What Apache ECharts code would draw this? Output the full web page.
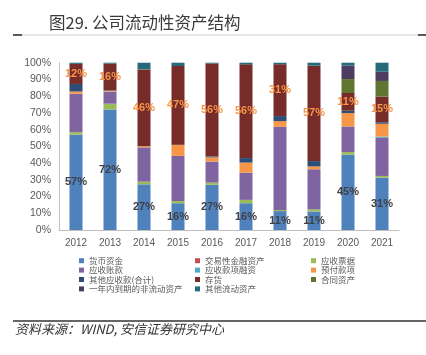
<!DOCTYPE html>
<html><head><meta charset="utf-8">
<script src="https://cdn.jsdelivr.net/npm/echarts@6/dist/echarts.min.js"></script>
<style>html,body{margin:0;padding:0;background:#fff}#c{width:426px;height:355px}</style>
</head><body><div id="c"></div>
<script>
const years = ['2012','2013','2014','2015','2016','2017','2018','2019','2020','2021'];
const cash = [57, 72, 27.3, 16, 27, 16, 11.3, 11, 45, 31.3];
const trading = [0,0,0,0,0,0,0,0,0,0];
const notes = [1.5, 3.5, 1.6, 1.3, 1.3, 2, 0.7, 1.3, 1.6, 1];
const receivables = [23, 7.2, 20.5, 27, 12.6, 16.3, 49.7, 24, 15.3, 22.8];
const financing = [0,0,0,0,0,0,0,0,0,0.7];
const prepay = [1.3, 0.5, 0.6, 6.5, 2.5, 6, 3.4, 1.7, 8, 7.7];
const otherRec = [4.5, 0.3, 0, 0.2, 0.5, 2.7, 3, 3.2, 1.4, 0.9];
const inventory = [12, 16, 46, 47, 55.6, 56, 31, 57, 10.6, 15.3];
const contract = [0,0,0,0,0,0,0,0,8.3,9.4];
const oneYear = [0,0,0,0,0,0,0,0,8,5.5];
const otherCur = [0.7, 0.5, 4, 2, 0.5, 1, 0.9, 1.8, 1.8, 5.4];
const yTicks = [0,10,20,30,40,50,60,70,80,90,100];

const names = ['货币资金','交易性金融资产','应收票据','应收账款','应收款项融资','预付款项','其他应收款(合计)','存货','合同资产','一年内到期的非流动资产','其他流动资产'];
const datas = [cash,trading,notes,receivables,financing,prepay,otherRec,inventory,contract,oneYear,otherCur];
const colors = ['#4F81BD','#C0504D','#9BBB59','#8064A2','#4BACC6','#F79646','#2C4D75','#772C2A','#5F7530','#4D3B62','#276A7C'];

const font = '"Noto Sans CJK SC", "Noto Sans", sans-serif';
const series = names.map((n,i)=>{
  const s = {name:n,type:'bar',stack:'a',data:datas[i],barWidth:13,itemStyle:{color:colors[i]}};
  if(i===0){s.label={show:true,position:'inside',formatter:p=>Math.round(p.value)+'%',color:'#404040',fontWeight:'bold',fontSize:11,fontFamily:'Liberation Sans, sans-serif'};}
  if(i===7){s.label={show:true,position:'inside',formatter:p=>Math.round(p.value)+'%',color:'#F79646',fontWeight:'bold',fontSize:11,fontFamily:'Liberation Sans, sans-serif'};}
  return s;
});
const legendCommon = {orient:'vertical',itemWidth:5,itemHeight:5,itemGap:0,icon:'rect',padding:0,
  textStyle:{fontSize:8.5,color:'#595959',fontFamily:font,lineHeight:9.4},top:256};
const chart = echarts.init(document.getElementById('c'));
chart.setOption({
  animation:false,
  grid:{left:59,right:27,top:62.7,bottom:125},
  legend:[
    Object.assign({},legendCommon,{left:79,data:[names[0],names[3],names[6],names[9]]}),
    Object.assign({},legendCommon,{left:195,data:[names[1],names[4],names[7],names[10]]}),
    Object.assign({},legendCommon,{left:311,data:[names[2],names[5],names[8]]})
  ],
  xAxis:{type:'category',data:years,axisTick:{show:false},axisLine:{lineStyle:{color:'#BFBFBF'}},
    axisLabel:{color:'#595959',fontSize:10,fontFamily:'Liberation Sans, sans-serif',margin:8}},
  yAxis:{type:'value',min:0,max:100,interval:10,splitLine:{show:false},
    axisLine:{show:true,lineStyle:{color:'#BFBFBF'}},axisTick:{show:false},
    axisLabel:{formatter:v=>yTicks.includes(v)?v+'%':'',color:'#595959',fontSize:10.5,fontFamily:'Liberation Sans, sans-serif',margin:8}},
  series:series,
  graphic:[
    {type:'text',left:49,top:14,style:{text:'图29. 公司流动性资产结构',font:'16.5px '+font,fill:'#3a3a3a'}},
    {type:'line',shape:{x1:22,y1:35,x2:418,y2:35},style:{stroke:'#D0D0D0',lineWidth:1}},
    {type:'line',shape:{x1:13,y1:35,x2:22,y2:35},style:{stroke:'#222',lineWidth:1.5}},
    {type:'line',shape:{x1:418,y1:35,x2:426,y2:35},style:{stroke:'#222',lineWidth:1.5}},
    {type:'line',shape:{x1:13,y1:321,x2:426,y2:321},style:{stroke:'#333',lineWidth:1.5}},
    {type:'text',left:15,top:323,style:{text:'资料来源：WIND, 安信证券研究中心',font:'italic 13px '+font,fill:'#333'}}
  ]
});
</script></body></html>
